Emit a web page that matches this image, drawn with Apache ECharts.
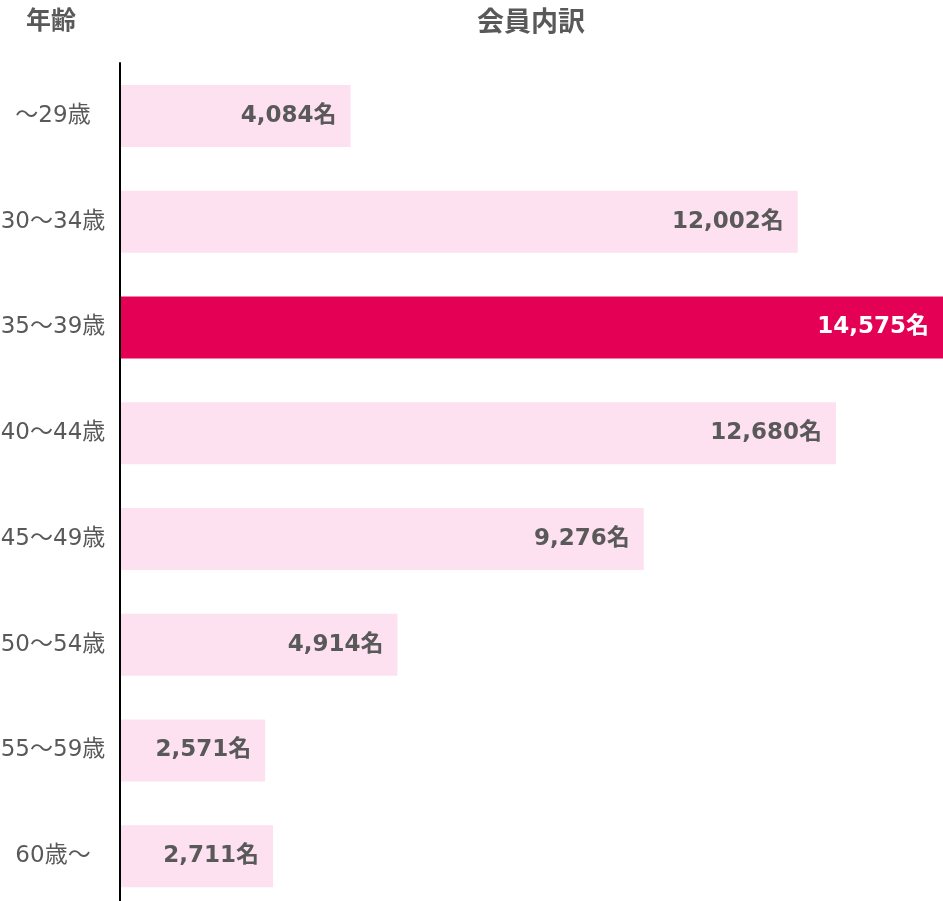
<!DOCTYPE html>
<html><head><meta charset="utf-8">
<script src="https://cdn.jsdelivr.net/npm/echarts@6/dist/echarts.min.js"></script>
<style>html,body{margin:0;padding:0;background:#fff}#c{width:943px;height:901px}</style>
</head><body><div id="c"></div>
<script>
const categories = ['～29歳','30～34歳','35～39歳','40～44歳','45～49歳','50～54歳','55～59歳','60歳～'];
const values = [4084, 12002, 14575, 12680, 9276, 4914, 2571, 2711];
const highlightIndex = 2;
const FONT = '"DejaVu Sans", "Noto Sans CJK JP", sans-serif';
const CJK = '"Noto Sans CJK JP", sans-serif';
const chart = echarts.init(document.getElementById('c'));
chart.setOption({
  animation: false,
  textStyle: {fontFamily: FONT},
  title: [
    {text: '年齢', left: 46, top: 2, textAlign: 'center', textStyle: {fontSize: 25, fontWeight: 'bold', color: '#595959', fontFamily: CJK}},
    {text: '会員内訳', left: 526, top: 2, textAlign: 'center', textStyle: {fontSize: 27, fontWeight: 'bold', color: '#595959', fontFamily: CJK}}
  ],
  grid: {left: 120, right: 0, top: 63, height: 846, containLabel: false, outerBoundsMode: 'none'},
  xAxis: {type: 'value', min: 0, max: 14575, show: false},
  yAxis: {
    type: 'category', data: categories, inverse: true, z: 10,
    axisLine: {show: true, lineStyle: {color: '#000', width: 2}},
    axisTick: {show: false},
    axisLabel: {align: 'center', margin: 67, fontSize: 23, color: '#595959', fontFamily: FONT}
  },
  series: [{
    type: 'bar', barWidth: 62, z: 2,
    data: values.map((v, i) => ({
      value: v,
      itemStyle: {color: i === highlightIndex ? '#E40055' : '#FDE1F0'},
      label: {color: i === highlightIndex ? '#ffffff' : '#595959'}
    })),
    label: {
      show: true, position: 'insideRight', distance: 14,
      fontSize: 23, fontWeight: 'bold', fontFamily: FONT,
      formatter: p => p.value.toLocaleString('en-US') + '名'
    }
  }]
});
</script></body></html>
